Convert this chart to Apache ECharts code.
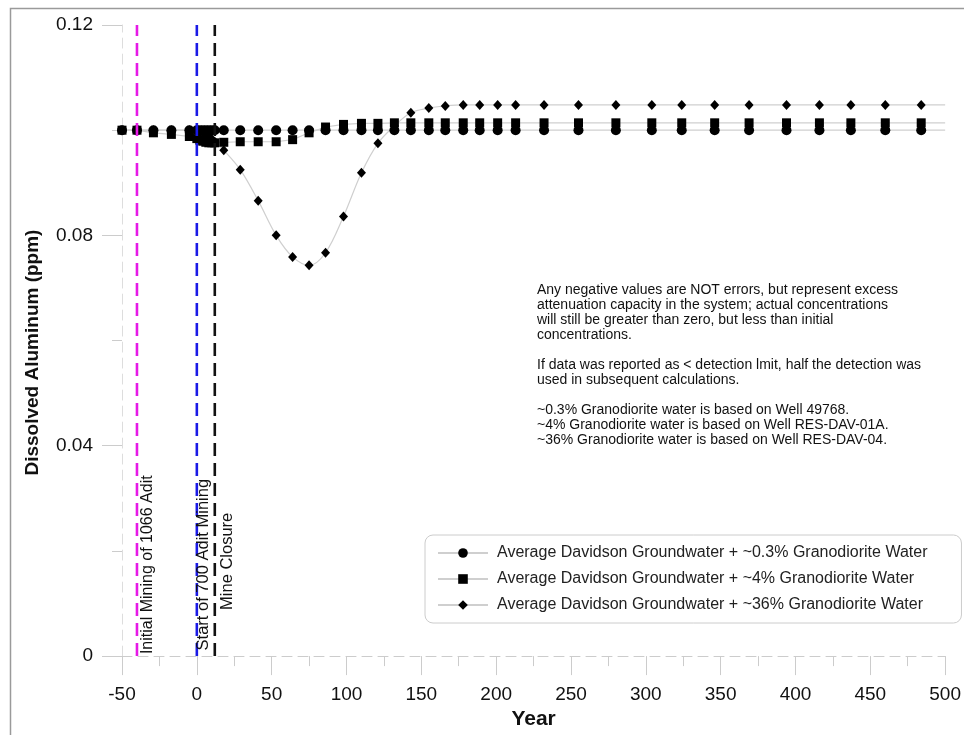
<!DOCTYPE html>
<html>
<head>
<meta charset="utf-8">
<script src="https://cdn.jsdelivr.net/npm/echarts@6/dist/echarts.min.js"></script>
<style>
html,body{margin:0;padding:0;background:#fff;}
#chart{width:964px;height:735px;}
</style>
</head>
<body>
<div id="chart"></div>
<script>
// ---- data ----
const years = [-50, -40, -29, -17, -5, 0, 2, 4, 6, 8, 10, 12, 18, 29, 41, 53, 64, 75, 86, 98, 110, 121,
  132, 143, 155, 166, 178, 189, 201, 213, 232, 255, 280, 304, 324, 346, 369, 394, 416, 437, 460, 484];
const al03 = [0.1, 0.1, 0.1, 0.1, 0.1, 0.1, 0.1, 0.1, 0.1, 0.1, 0.1, 0.1, 0.1, 0.1, 0.1, 0.1, 0.1, 0.1, 0.1, 0.1, 0.1, 0.1,
  0.1, 0.1, 0.1, 0.1, 0.1, 0.1, 0.1, 0.1, 0.1, 0.1, 0.1, 0.1, 0.1, 0.1, 0.1, 0.1, 0.1, 0.1, 0.1, 0.1];
const al4 = [0.1, 0.1, 0.0995, 0.0992, 0.0988, 0.0984, 0.0981, 0.0979, 0.0977, 0.0976, 0.0976, 0.0976, 0.0977, 0.0978, 0.0978, 0.0978, 0.0982, 0.0995, 0.1006, 0.1011, 0.1013, 0.1013,
  0.1014, 0.1014, 0.1014, 0.1014, 0.1014, 0.1014, 0.1014, 0.1014, 0.1014, 0.1014, 0.1014, 0.1014, 0.1014, 0.1014, 0.1014, 0.1014, 0.1014, 0.1014, 0.1014, 0.1014];
const al36 = [0.1, 0.1, 0.1, 0.1, 0.1, 0.0999, 0.0997, 0.0995, 0.0992, 0.0988, 0.0983, 0.0978, 0.0962, 0.0925, 0.0866, 0.0800, 0.0759, 0.0743, 0.0767, 0.0836, 0.0919, 0.0975,
  0.1008, 0.1033, 0.1042, 0.1046, 0.1048, 0.1048, 0.1048, 0.1048, 0.1048, 0.1048, 0.1048, 0.1048, 0.1048, 0.1048, 0.1048, 0.1048, 0.1048, 0.1048, 0.1048, 0.1048];
const lineEndYear = 500;
const seriesNames = [
  'Average Davidson Groundwater + ~0.3% Granodiorite Water',
  'Average Davidson Groundwater + ~4% Granodiorite Water',
  'Average Davidson Groundwater + ~36% Granodiorite Water'
];
const eventYears = [-40, 0, 12];
const eventLabels = ['Initial Mining of 1066 Adit', 'Start of 700 Adit Mining', 'Mine Closure'];
const eventColors = ['#e619e6', '#1a1ae6', '#111111'];
const xMin = -50, xMax = 500, xInterval = 50;
const yMin = 0, yMax = 0.12, yInterval = 0.04;
const noteLines = [
  'Any negative values are NOT errors, but represent excess',
  'attenuation capacity in the system; actual concentrations',
  'will still be greater than zero, but less than initial',
  'concentrations.',
  '',
  'If data was reported as < detection lmit, half the detection was',
  'used in subsequent calculations.',
  '',
  '~0.3% Granodiorite water is based on Well 49768.',
  '~4% Granodiorite water is based on Well RES-DAV-01A.',
  '~36% Granodiorite water is based on Well RES-DAV-04.'
];
// ---------------------------------------

const FONT = 'Liberation Sans, Arial, sans-serif';
const chart = echarts.init(document.getElementById('chart'), null, {renderer: 'canvas'});

function buildData(vals) {
  const d = years.map((y, i) => [y, vals[i]]);
  d.push({value: [lineEndYear, vals[vals.length - 1]], symbol: 'none'});
  return d;
}
const symbols = ['circle', 'rect', 'diamond'];
const sizes = [10, 9, [9, 10]];
const dataSets = [al03, al4, al36];

const series = dataSets.map((vals, k) => ({
  name: seriesNames[k],
  type: 'line',
  data: buildData(vals),
  smooth: k === 2 ? 0.35 : false,
  symbol: symbols[k],
  symbolSize: sizes[k],
  showAllSymbol: true,
  itemStyle: {color: '#000'},
  lineStyle: {color: '#cfcfcf', width: 1.2},
  emphasis: {disabled: true},
  z: 3
}));

eventYears.forEach((yr, i) => {
  series.push({
    name: 'event' + i,
    type: 'line',
    data: [[yr, yMin], [yr, yMax]],
    showSymbol: false,
    symbol: 'none',
    lineStyle: {color: eventColors[i], width: 2.6, type: [13, 7]},
    emphasis: {disabled: true},
    silent: true,
    z: 4
  });
});

const option = {
  animation: false,
  backgroundColor: '#fff',
  textStyle: {fontFamily: FONT},
  grid: {left: 122, right: 16, top: 25, bottom: 77, containLabel: false},
  xAxis: {
    type: 'value', min: xMin, max: xMax, interval: xInterval,
    name: 'Year', nameLocation: 'middle', nameGap: 50,
    nameTextStyle: {fontSize: 21, fontWeight: 'bold', color: '#111', fontFamily: FONT},
    axisLine: {show: true, onZero: false, lineStyle: {color: '#cccccc', width: 1, type: [10, 6]}},
    axisTick: {show: true, length: 19, lineStyle: {color: '#cccccc'}},
    minorTick: {show: true, splitNumber: 2, length: 10, lineStyle: {color: '#cccccc'}},
    splitLine: {show: false},
    axisLabel: {fontSize: 19, color: '#111', margin: 29, fontFamily: FONT}
  },
  yAxis: {
    type: 'value', min: yMin, max: yMax, interval: yInterval,
    name: 'Dissolved Aluminum (ppm)', nameLocation: 'middle', nameGap: 80,
    nameTextStyle: {fontSize: 19, fontWeight: 'bold', color: '#111', fontFamily: FONT, padding: [0, 24, 0, 0]},
    axisLine: {show: true, onZero: false, lineStyle: {color: '#dddddd', width: 1, type: [10, 6]}},
    axisTick: {show: true, length: 20, lineStyle: {color: '#cccccc'}},
    minorTick: {show: true, splitNumber: 2, length: 10, lineStyle: {color: '#cccccc'}},
    splitLine: {show: false},
    axisLabel: {fontSize: 19, color: '#111', margin: 29, fontFamily: FONT,
      formatter: v => (Math.round(v * 100) / 100).toString()}
  },
  legend: {
    data: seriesNames,
    orient: 'vertical',
    left: 425, top: 535,
    padding: [10, 34, 10, 12],
    borderColor: '#cccccc', borderWidth: 1, borderRadius: 8,
    itemWidth: 50, itemHeight: 12, itemGap: 10,
    textStyle: {fontSize: 16, color: '#222', fontFamily: FONT, lineHeight: 15, padding: [0, 0, 0, 4]},
    selectedMode: false
  },
  series: series
};
chart.setOption(option);

// annotation texts placed from data coordinates
const graphics = [{
  type: 'rect', shape: {x: 10.5, y: 8.5, width: 1000, height: 800},
  style: {fill: 'none', stroke: '#9a9a9a', lineWidth: 1.5}, silent: true, z: 0
}, {
  type: 'text', x: 537, y: 283,
  style: {text: noteLines.join('\n'), font: '14px ' + FONT, fill: '#111', lineHeight: 15}
}];
const offsets = [[11, 0, 16], [7, 0.0007, 16.5], [13, 0.0084, 16.5]];
eventYears.forEach((yr, i) => {
  const p = chart.convertToPixel({gridIndex: 0}, [yr, yMin + offsets[i][1]]);
  graphics.push({
    type: 'text', x: p[0] + offsets[i][0], y: p[1] - 2, rotation: Math.PI / 2,
    style: {text: eventLabels[i], font: offsets[i][2] + 'px ' + FONT, fill: '#111', align: 'left', verticalAlign: 'middle'},
    z: 10
  });
});
chart.setOption({graphic: graphics});
</script>
</body>
</html>
